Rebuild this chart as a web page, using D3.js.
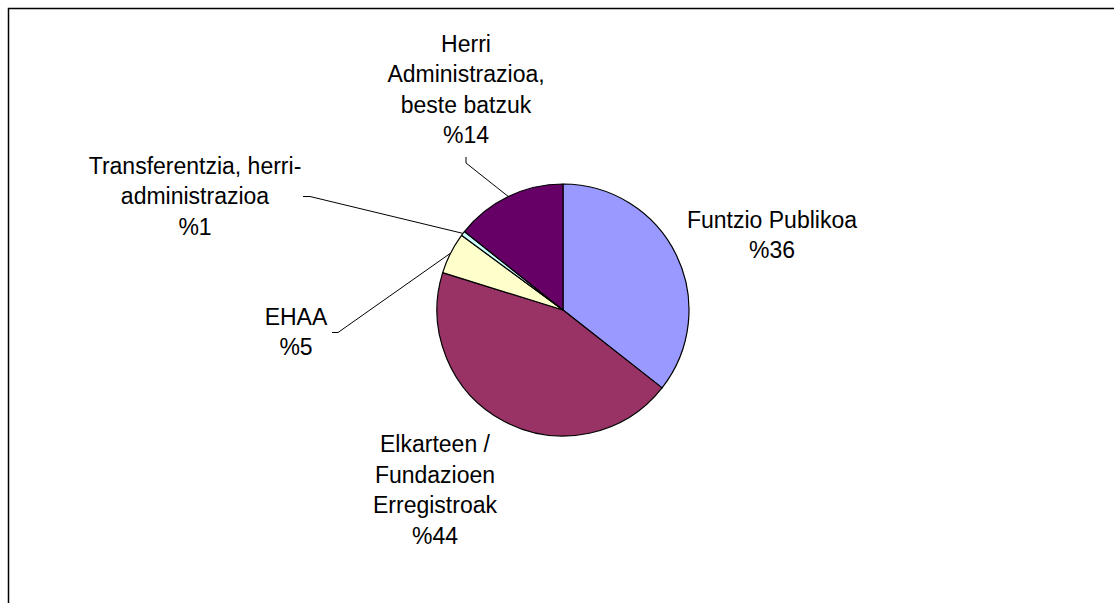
<!DOCTYPE html>
<html>
<head>
<meta charset="utf-8">
<script src="https://cdn.jsdelivr.net/npm/d3@7"></script>
<style>
  html, body { margin: 0; padding: 0; background: #fff; }
  svg { display: block; }
  text { font-family: "Liberation Sans", Arial, sans-serif; font-size: 23px; fill: #000; }
</style>
</head>
<body>
<svg id="chart" width="1114" height="603"></svg>
<script>
// Data (clockwise from 12 o'clock)
const categories = ["Funtzio Publikoa", "Elkarteen / Fundazioen Erregistroak", "EHAA", "Transferentzia, herri-administrazioa", "Herri Administrazioa, beste batzuk"];
const values = [35.6, 44.2, 5.3, 0.6, 14.3];
const percentLabels = ["%36", "%44", "%5", "%1", "%14"];
const labelLines = [
  ["Funtzio Publikoa"],
  ["Elkarteen /", "Fundazioen", "Erregistroak"],
  ["EHAA"],
  ["Transferentzia, herri-", "administrazioa"],
  ["Herri", "Administrazioa,", "beste batzuk"]
];
const colors = ["#9999FF", "#993366", "#FFFFCC", "#CCFFFF", "#660066"];

// Layout
const cx = 563, cy = 310, r = 126;
const lineH = 30.5;
const labelPos = [
  { x: 772, y: 227.5 },
  { x: 435, y: 452 },
  { x: 296, y: 324.5 },
  { x: 195, y: 173.5 },
  { x: 466, y: 51.5 }
];
// leader line anchors near the labels (null = no leader)
const leaderAnchor = [
  null,
  null,
  [[332, 332.5], [338, 332.5]],
  [[303, 196.5], [310, 196.5]],
  [[466, 157], [466, 163]]
];

const svg = d3.select("#chart");

// frame
svg.append("path")
  .attr("d", "M8.5,620 L8.5,8.5 L1130,8.5")
  .attr("fill", "none")
  .attr("stroke", "#000")
  .attr("stroke-width", 1.5);

const pie = d3.pie().sort(null).value(d => d)(values);
const arc = d3.arc().innerRadius(0).outerRadius(r);

const g = svg.append("g").attr("transform", `translate(${cx},${cy})`);
g.selectAll("path.slice")
  .data(pie)
  .join("path")
  .attr("class", "slice")
  .attr("d", arc)
  .attr("fill", (d, i) => colors[i])
  .attr("stroke", "#000")
  .attr("stroke-width", 1.2)
  .attr("stroke-linejoin", "round");

// leader lines
pie.forEach((d, i) => {
  if (!leaderAnchor[i]) return;
  const mid = (d.startAngle + d.endAngle) / 2;
  const px = cx + r * Math.sin(mid);
  const py = cy - r * Math.cos(mid);
  const pts = leaderAnchor[i].concat([[px, py]]);
  svg.append("path")
    .attr("d", d3.line()(pts))
    .attr("fill", "none")
    .attr("stroke", "#000")
    .attr("stroke-width", 1);
});

// labels
labelLines.forEach((lines, i) => {
  const t = svg.append("text")
    .attr("text-anchor", "middle")
    .attr("x", labelPos[i].x)
    .attr("y", labelPos[i].y);
  const all = lines.concat([percentLabels[i]]);
  all.forEach((s, j) => {
    t.append("tspan")
      .attr("x", labelPos[i].x)
      .attr("y", labelPos[i].y + j * lineH)
      .text(s);
  });
});
</script>
</body>
</html>
